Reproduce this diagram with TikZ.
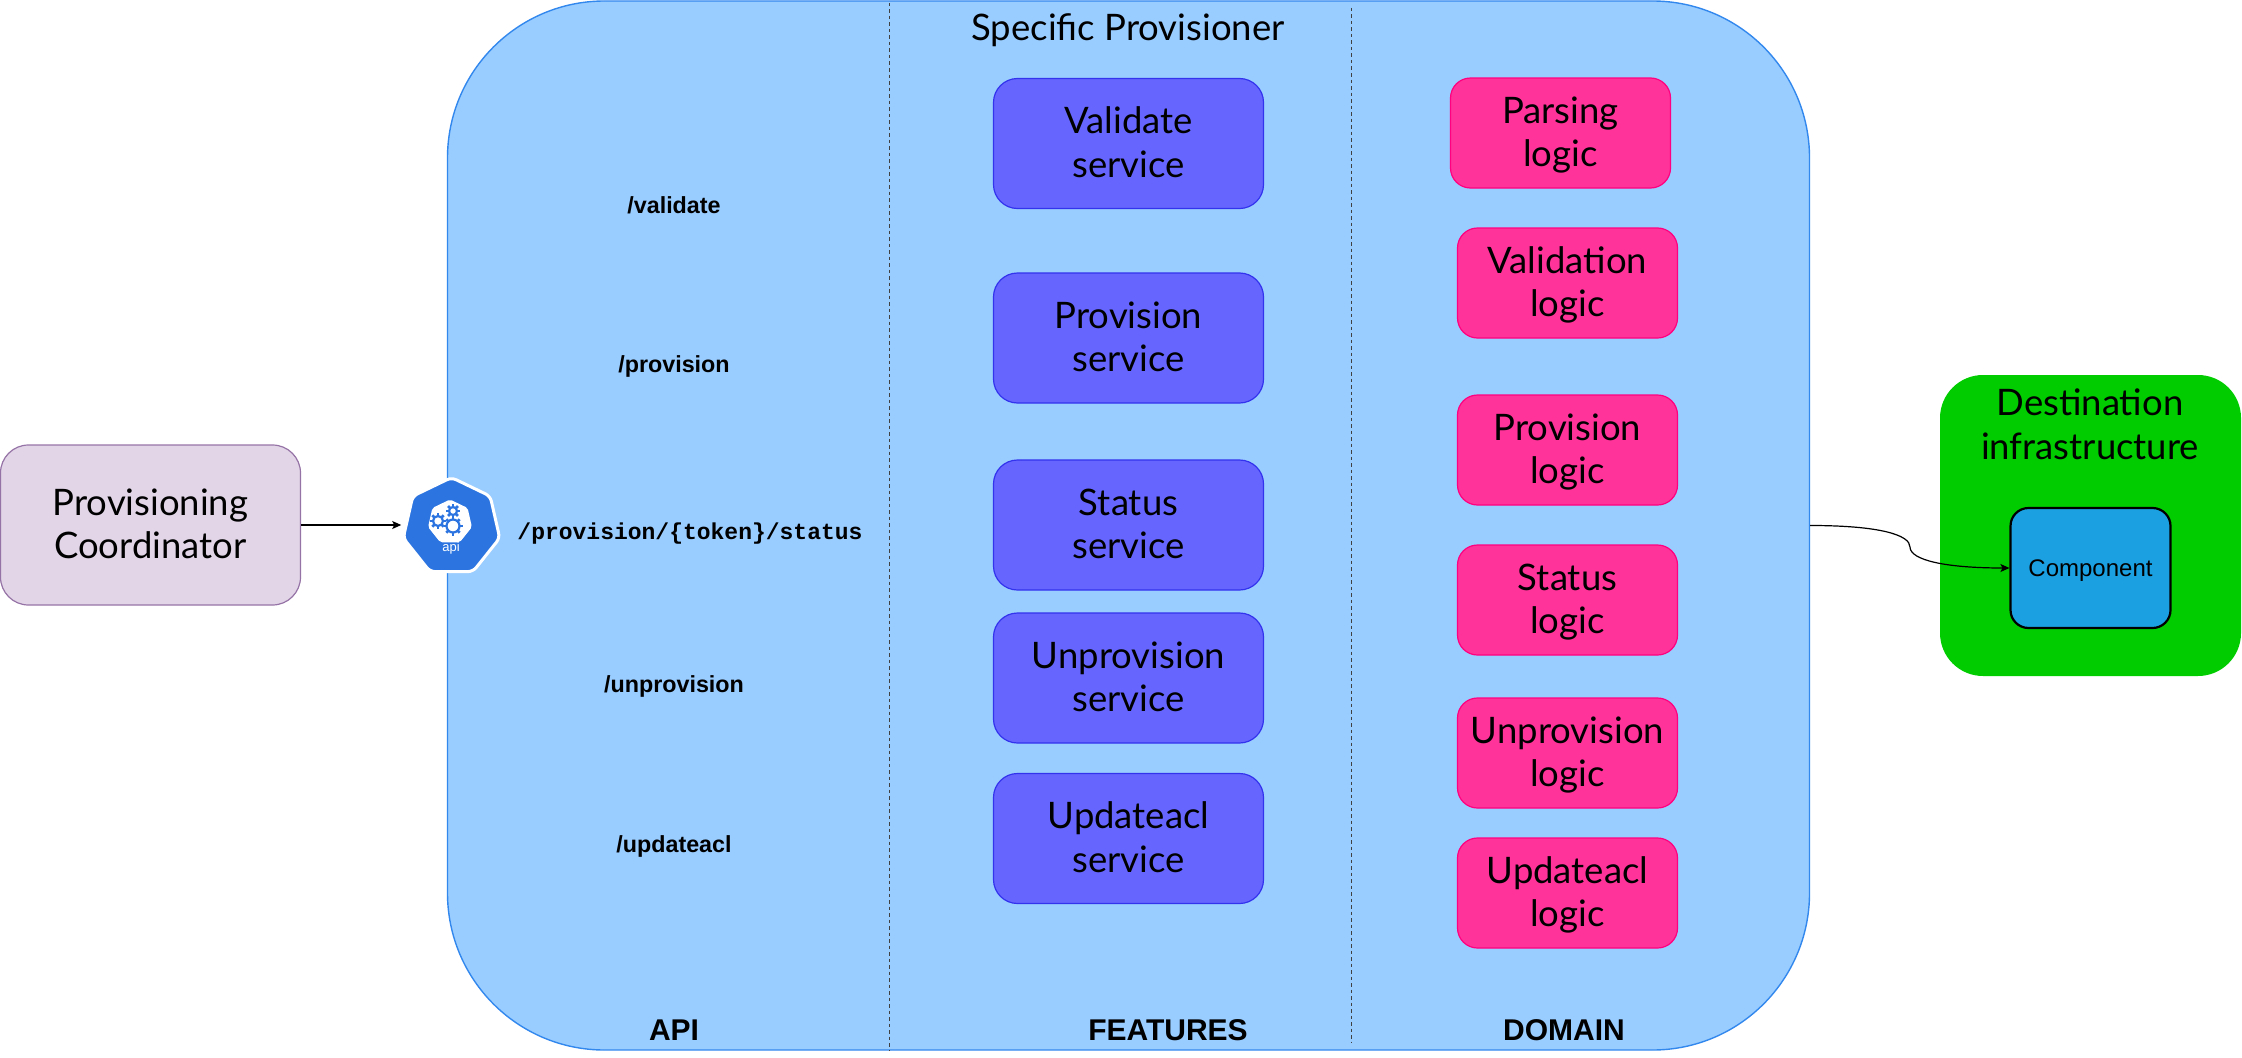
\documentclass[tikz,border=0pt]{standalone}
\usepackage{fontspec}
\usepackage{tikz}
\usetikzlibrary{shapes.geometric,arrows.meta}
\setmainfont{Lato}
\newfontfamily\arialfont{Liberation Sans}
\newfontfamily\monofont{Liberation Mono}

\definecolor{panelblue}{RGB}{153,204,255}
\definecolor{panelline}{RGB}{51,136,238}
\definecolor{servicefill}{RGB}{102,102,255}
\definecolor{serviceline}{RGB}{51,51,238}
\definecolor{logicfill}{RGB}{255,51,153}
\definecolor{logicline}{RGB}{255,0,128}
\definecolor{coordfill}{RGB}{225,213,231}
\definecolor{coordline}{RGB}{150,115,166}
\definecolor{destgreen}{RGB}{0,204,0}
\definecolor{compblue}{RGB}{27,161,226}
\definecolor{apiblue}{RGB}{44,117,225}

\tikzset{
  bigtext/.style={font=\fontsize{36.5}{43.5}\selectfont,align=center,text=black},
  twolines/.style={bigtext,text height=71pt,text depth=4pt},
  servicebox/.style={twolines,draw=serviceline,fill=servicefill,line width=1.2pt,rounded corners=24pt,
    minimum width=270pt,minimum height=130pt,inner sep=0pt},
  logicbox/.style={twolines,draw=logicline,fill=logicfill,line width=1.2pt,rounded corners=20pt,
    minimum width=220pt,minimum height=110pt,inner sep=0pt},
  routelabel/.style={font=\arialfont\bfseries\fontsize{23.3}{28}\selectfont},
  columnlabel/.style={font=\arialfont\bfseries\fontsize{30}{34}\selectfont},
  dividerline/.style={black!75,line width=1.1pt,dash pattern=on 3.5pt off 3pt},
  link/.style={-{Stealth[length=9pt,width=8pt,inset=2pt]},black,line width=1.2pt},
}

\begin{document}
\begin{tikzpicture}[x=1pt,y=-1pt]
\useasboundingbox (0,0) rectangle (2242,1057);

% Main panel
\node[draw=panelline,fill=panelblue,line width=1.4pt,rounded corners=157pt,
  minimum width=1362pt,minimum height=1049pt,inner sep=0pt] (provisioner) at (1128.5,525.5) {};
\node[bigtext,anchor=base] (title) at (1128,41) {Specific Provisioner};

% Column separators
\draw[dividerline] (889.5,3) -- (889.5,1050);
\draw[dividerline] (1351.5,8) -- (1351.5,1042);

% API routes
\node[routelabel] (validateroute) at (674,205.5) {/validate};
\node[routelabel] (provisionroute) at (674,366.5) {/provision};
\node[font=\monofont\bfseries\fontsize{23}{28}\selectfont] (statusroute) at (690,534) {/provision/\{token\}/status};
\node[routelabel] (unprovisionroute) at (674,686.5) {/unprovision};
\node[routelabel] (updateaclroute) at (674,846.5) {/updateacl};

% Feature services
\node[servicebox] (validateservice) at (1128.5,143.5) {Validate\\service};
\node[servicebox] (provisionservice) at (1128.5,338) {Provision\\service};
\node[servicebox] (statusservice) at (1128.5,525) {Status\\service};
\node[servicebox] (unprovisionservice) at (1128.5,678) {Unprovision\\service};
\node[servicebox] (updateaclservice) at (1128.5,838.5) {Updateacl\\service};

% Domain logic
\node[logicbox] (parsinglogic) at (1560.5,133) {Parsing\\logic};
\node[logicbox] (validationlogic) at (1567.5,283) {Validation\\logic};
\node[logicbox] (provisionlogic) at (1567.5,450) {Provision\\logic};
\node[logicbox] (statuslogic) at (1567.5,600) {Status\\logic};
\node[logicbox] (unprovisionlogic) at (1567.5,753) {Unprovision\\logic};
\node[logicbox] (updateacllogic) at (1567.5,893) {Updateacl\\logic};

% Column titles
\node[columnlabel] (apititle) at (674,1030) {API};
\node[columnlabel] (featurestitle) at (1168,1030) {FEATURES};
\node[columnlabel] (domaintitle) at (1564,1030) {DOMAIN};

% Left side
\node[twolines,draw=coordline,fill=coordfill,line width=1.2pt,rounded corners=28pt,
  minimum width=300pt,minimum height=160pt,inner sep=0pt] (coordinator) at (150.5,525) {Provisioning\\Coordinator};

% Api badge
\node[regular polygon,regular polygon sides=7,draw=white,fill=apiblue,line width=3pt,rounded corners=5pt,
  minimum size=99pt,inner sep=0pt] (apibadge) at (451.5,527) {};
\node[regular polygon,regular polygon sides=7,fill=white,rounded corners=2pt,
  minimum size=45pt,inner sep=0pt] (apicore) at (450,522) {};
\foreach \gx/\gy/\gr in {438/521/5,453/511/4,453/526/6.5}{
  \foreach \a in {0,45,...,315}
    \draw[apiblue,line width=2.5pt] (\gx,\gy) ++(\a:\gr) -- ++(\a:3);
  \draw[apiblue,line width=2.2pt,fill=white] (\gx,\gy) circle (\gr);
}
\node[font=\arialfont\fontsize{13}{15}\selectfont,text=white] (apicaption) at (451,548) {api};

% Right side
\node[fill=destgreen,rounded corners=43pt,minimum width=301pt,minimum height=301pt,inner sep=0pt] (destination) at (2090.5,525.5) {};
\node[twolines] (desttitle) at (2090,425.5) {Destination\\infrastructure};
\node[draw=black,fill=compblue,line width=2.2pt,rounded corners=18pt,minimum width=160pt,minimum height=120pt,
  inner sep=0pt,text depth=0pt,font=\arialfont\fontsize{24}{28}\selectfont] (component) at (2090.5,568) {Component};

% Connectors
\draw[link] (coordinator.east) -- ([xshift=-3pt]apibadge.west |- coordinator.east);
\draw[link] (provisioner.east) .. controls (1880,525.5) and (1910,535) .. (1910,547)
  .. controls (1910,560) and (1945,568) .. (component.west);
\end{tikzpicture}
\end{document}
